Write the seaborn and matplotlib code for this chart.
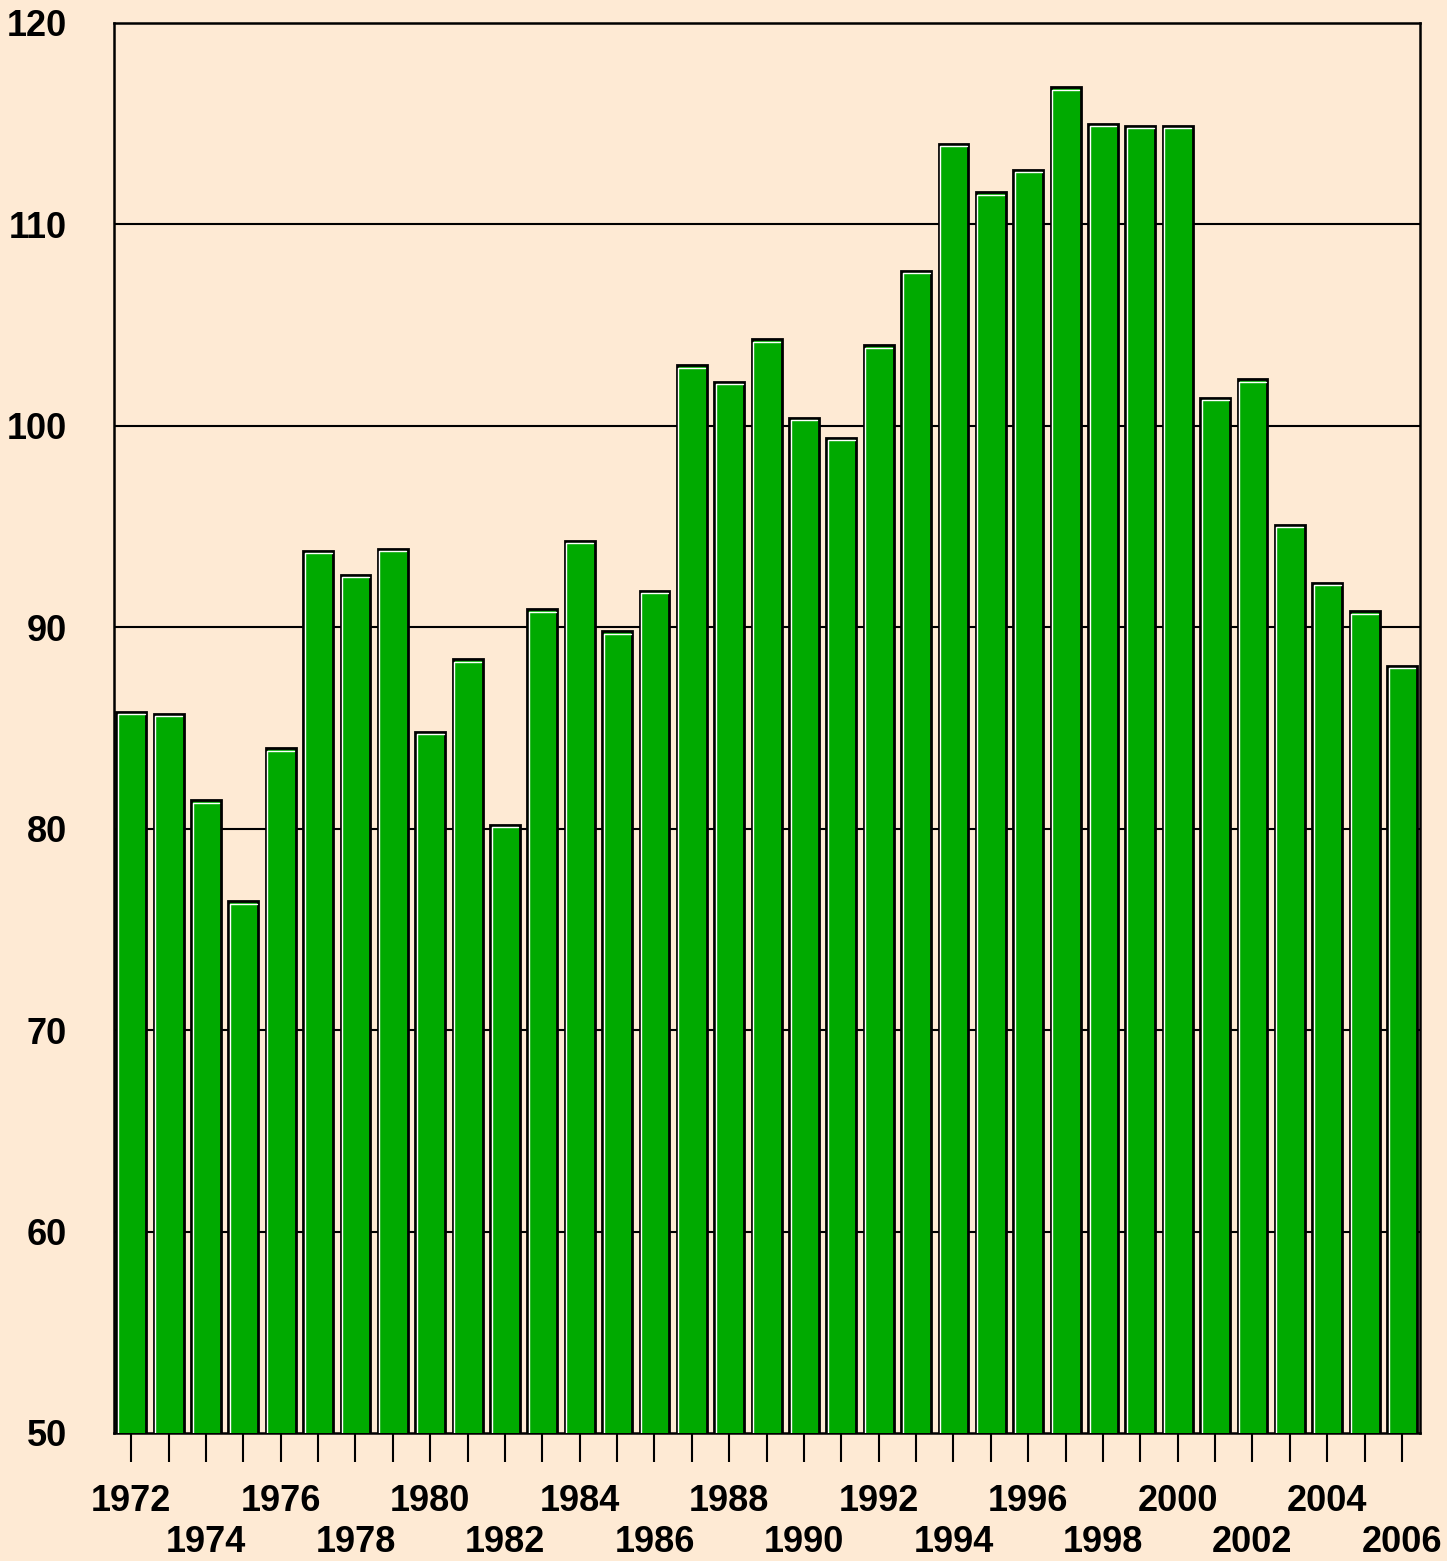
import matplotlib
matplotlib.use("Agg")
import pandas as pd
import numpy as np
import matplotlib.pyplot as plt
import seaborn as sns
from matplotlib.lines import Line2D

years = list(range(1972, 2007))
values = [85.8, 85.7, 81.4, 76.4, 84.0, 93.8, 92.6, 93.9, 84.8, 88.4,
          80.2, 90.9, 94.3, 89.8, 91.8, 103.0, 102.2, 104.3, 100.4, 99.4,
          104.0, 107.7, 114.0, 111.6, 112.7, 116.8, 115.0, 114.9, 114.9, 101.4,
          102.3, 95.1, 92.2, 90.8, 88.1]

bg = "#FEEAD4"
green = "#00AA00"

df = pd.DataFrame({"year": years, "value": values})

sns.set_style("ticks")
plt.rcParams["font.family"] = ["Liberation Sans", "DejaVu Sans"]
plt.rcParams["font.weight"] = "bold"
plt.rcParams["text.color"] = "black"
plt.rcParams["xtick.color"] = "black"
plt.rcParams["ytick.color"] = "black"

fig = plt.figure(figsize=(14.47, 15.61), dpi=100, facecolor=bg)
ax = fig.add_axes([0.0788, 0.082, 0.9025, 0.9033])
ax.set_facecolor(bg)

sns.barplot(data=df, x="year", y="value", color=green, saturation=1,
            edgecolor="black", linewidth=2, width=0.8, ax=ax, zorder=3)

# white highlight on left and top edge of each bar
for p in ax.patches:
    x0, y0 = p.get_x(), p.get_y()
    w, h = p.get_width(), p.get_height()
    dx = w * 0.05
    ax.add_line(Line2D([x0 + dx, x0 + dx, x0 + w - dx], [y0, y0 + h - 0.12, y0 + h - 0.12],
                       color="white", lw=1.0, zorder=4))

ax.set_ylim(50, 120)
ax.set_xlim(-0.46, len(years) - 0.52)
ax.set_yticks(range(50, 121, 10))
for y in range(60, 120, 10):
    ax.axhline(y, color="black", lw=1.5, zorder=1)

labels = []
for i, yr in enumerate(years):
    if i % 4 == 0:
        labels.append(str(yr))
    elif i % 4 == 2:
        labels.append("\n" + str(yr))
    else:
        labels.append("")
ax.set_xticks(range(len(years)))
ax.set_xticklabels(labels, fontsize=26, fontweight="bold", color="black")
ax.tick_params(axis="x", length=21, width=1.5, color="black", pad=16)
ax.tick_params(axis="y", length=0, pad=34, labelsize=26, labelcolor="black")
for t in ax.get_yticklabels():
    t.set_fontweight("bold")

for s in ax.spines.values():
    s.set_visible(True)
    s.set_color("black")
    s.set_linewidth(1.8)

ax.set_xlabel("")
ax.set_ylabel("")

fig.savefig("out.png", dpi=100, facecolor=bg)
